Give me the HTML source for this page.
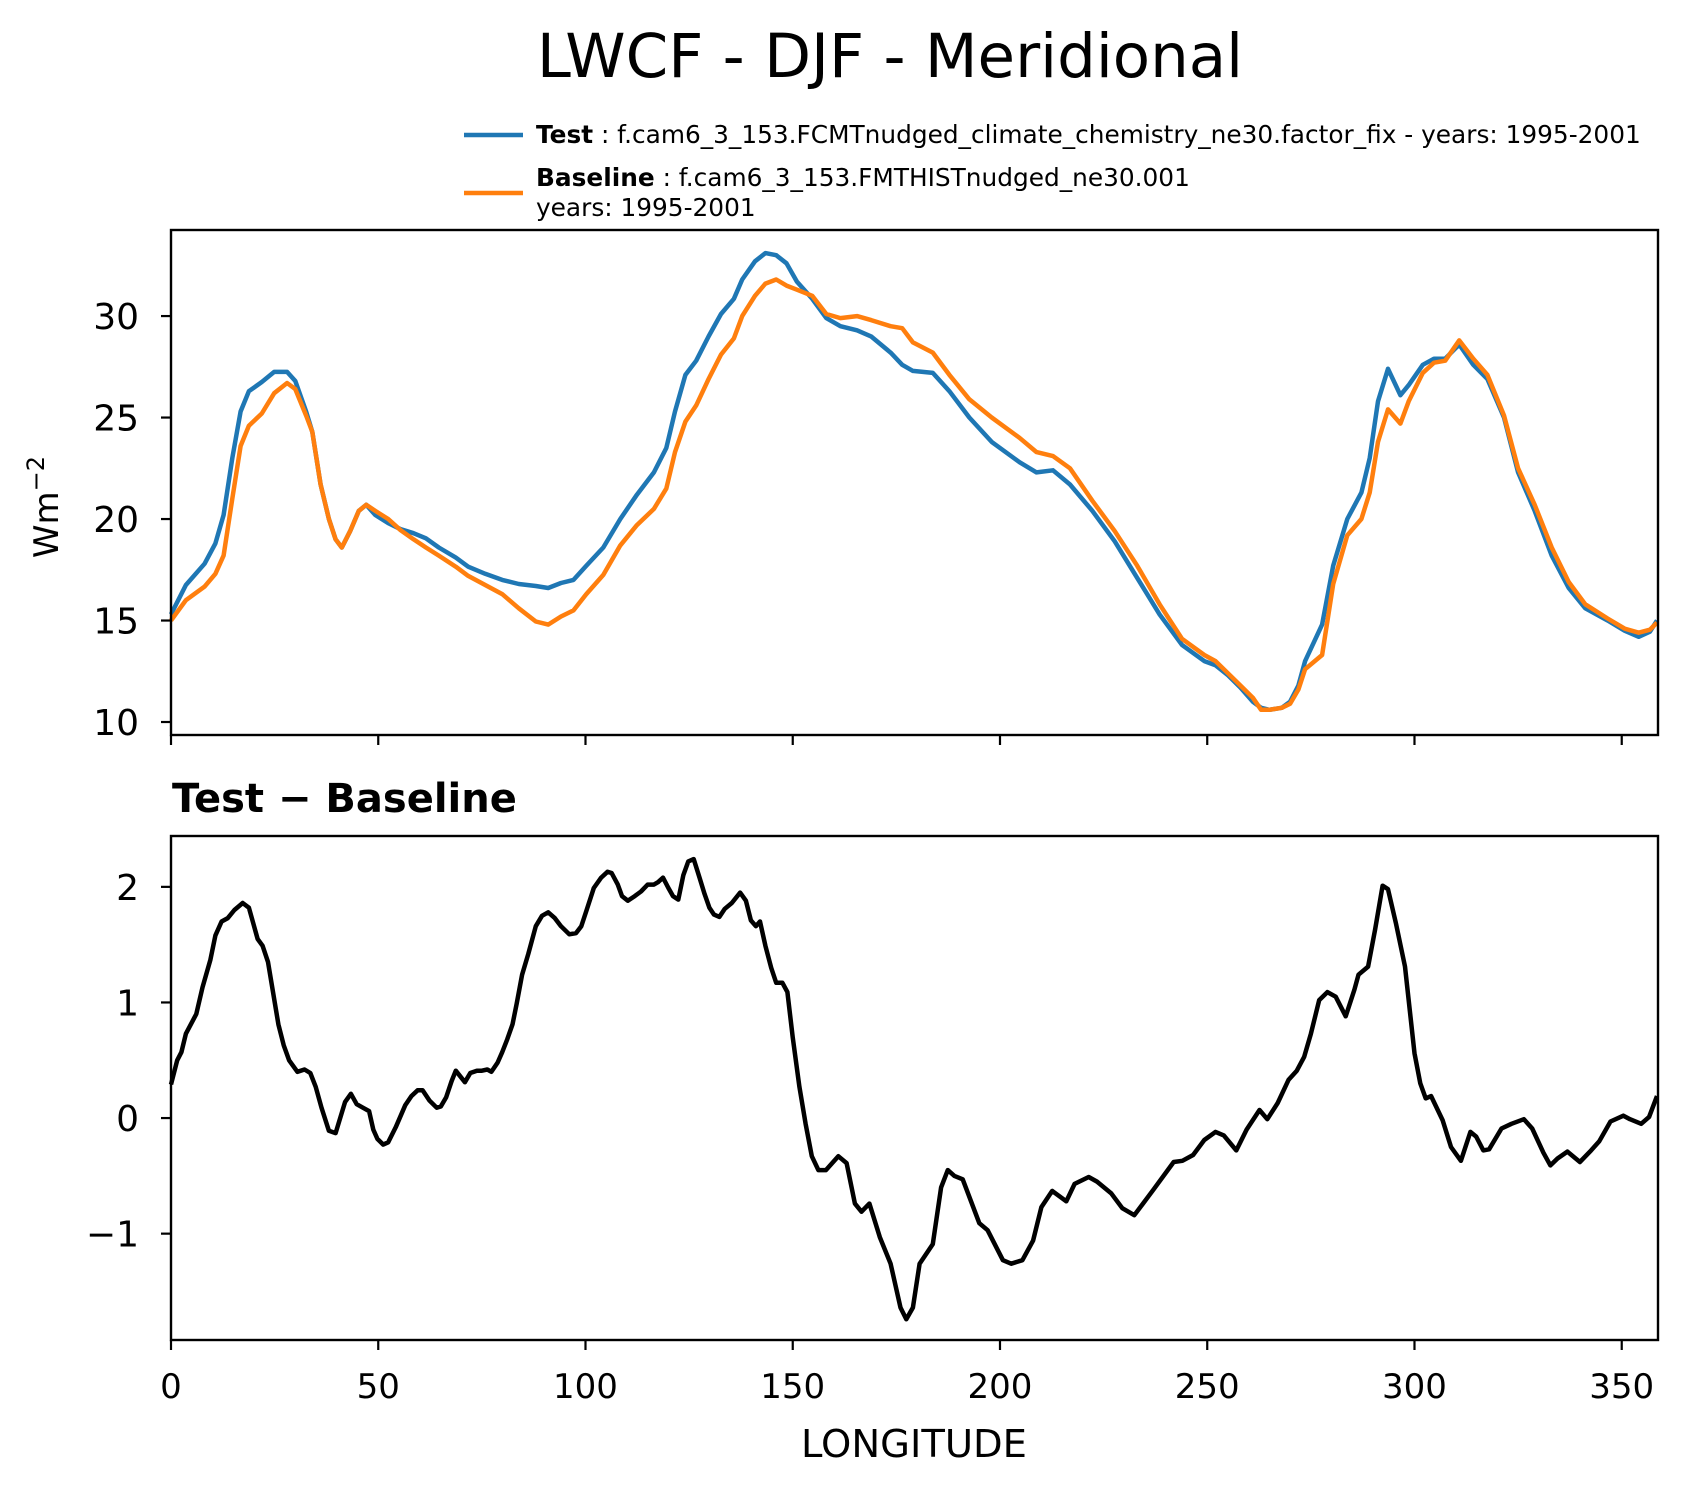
<!DOCTYPE html>
<html><head><meta charset="utf-8"><style>
html,body{margin:0;padding:0;background:#fff;}
svg{display:block;font-family:"DejaVu Sans","Liberation Sans",sans-serif;}
</style></head><body>
<svg id="chart" width="1691" height="1496" viewBox="0 0 1691 1496" xmlns="http://www.w3.org/2000/svg">
<text x="890" y="77" font-size="61" text-anchor="middle">LWCF - DJF - Meridional</text>
<g>
<line x1="464" y1="135" x2="523" y2="135" stroke="#1f77b4" stroke-width="4.5"/>
<text x="536" y="143" font-size="24.8"><tspan font-weight="bold">Test</tspan> : f.cam6_3_153.FCMTnudged_climate_chemistry_ne30.factor_fix - years: 1995-2001</text>
<line x1="464" y1="193" x2="523" y2="193" stroke="#ff7f0e" stroke-width="4.5"/>
<text x="536" y="186" font-size="24.8"><tspan font-weight="bold">Baseline</tspan> : f.cam6_3_153.FMTHISTnudged_ne30.001</text>
<text x="536" y="216" font-size="24.8">years: 1995-2001</text>
</g>
<text transform="translate(58,507) rotate(-90)" font-size="34" text-anchor="middle">Wm<tspan dy="-14" font-size="24">−2</tspan></text>
<text x="172" y="812" font-size="40" font-weight="bold">Test − Baseline</text>
<text x="914" y="1457" font-size="38.5" text-anchor="middle">LONGITUDE</text>
<g id="top"></g>
<g id="bot"></g>
</svg>
<script>
const lonTest=[0,3.6,8.1,10.7,12.7,14.8,16.8,18.8,21.9,24.9,28,30,32.6,34.1,36.1,38.1,39.7,41.2,43.2,45.3,47.1,49.3,52.4,55.4,58.5,61.5,64.6,68.7,71.7,75.8,79.9,83.9,88,91,94.1,97.1,100.2,104.3,108.4,112.4,116.5,119.5,121.6,124.1,126.7,129.7,132.7,135.8,137.8,140.9,143.4,146,148.5,151,154.7,158.1,161.5,165.5,168.9,173.6,176.4,179,183.8,187.8,192.6,198,204.7,208.8,212.8,216.9,222.3,227.7,233.1,238.5,243.9,249.3,252,255,258,261,263,265,268,270,272,273.6,277.7,280.4,283.8,287.2,289.2,291.2,293.6,296.6,298.6,302,304.7,307.4,310.8,314.2,317.6,321.6,325,329,333.1,337.2,341.2,346.6,350.7,354.1,356.8,358.5];
const valTest=[15.3,16.75,17.8,18.8,20.2,23,25.3,26.3,26.75,27.25,27.25,26.8,25.3,24.3,21.7,20.0,19,18.6,19.4,20.4,20.7,20.2,19.8,19.5,19.3,19.05,18.6,18.1,17.65,17.3,17,16.8,16.7,16.6,16.85,17,17.7,18.6,20,21.2,22.3,23.5,25.3,27.1,27.8,29,30.1,30.85,31.8,32.7,33.1,33,32.6,31.7,30.85,29.9,29.5,29.3,29,28.2,27.6,27.3,27.2,26.3,25,23.8,22.8,22.3,22.4,21.7,20.4,18.9,17.1,15.3,13.8,13,12.8,12.3,11.7,11.0,10.7,10.6,10.7,11.0,11.8,13,14.8,17.7,20,21.3,23,25.8,27.4,26.1,26.6,27.6,27.9,27.9,28.6,27.6,26.9,25,22.3,20.4,18.2,16.6,15.6,15,14.5,14.2,14.45,15];
const lonBase=[0,3.6,8.1,10.7,12.7,14.8,16.8,18.8,21.9,24.9,28,30,32.6,34.1,36.1,38.1,39.7,41.2,43.2,45.3,47.1,49.3,52.4,55.4,58.5,61.5,64.6,68.7,71.7,75.8,79.9,83.9,88,91,94.1,97.1,100.2,104.3,108.4,112.4,116.5,119.5,121.6,124.1,126.7,129.7,132.7,135.8,137.8,140.9,143.4,146,148.5,151,154.7,158.1,161.5,165.5,168.9,173.6,176.4,179,183.8,187.8,192.6,198,204.7,208.8,212.8,216.9,222.3,227.7,233.1,238.5,243.9,249.3,252,255,258,261,263,265,268,270,272,273.6,277.7,280.4,283.8,287.2,289.2,291.2,293.6,296.6,298.6,302,304.7,307.4,310.8,314.2,317.6,321.6,325,329,333.1,337.2,341.2,346.6,350.7,354.1,356.8,358.5];
const valBase=[15.0,16.0,16.67,17.3,18.2,21,23.6,24.6,25.2,26.2,26.7,26.4,25.1,24.3,21.7,20.0,19,18.6,19.4,20.4,20.7,20.4,20,19.45,19,18.6,18.2,17.65,17.2,16.75,16.3,15.6,14.95,14.8,15.2,15.5,16.3,17.25,18.7,19.7,20.5,21.5,23.3,24.8,25.6,26.9,28.1,28.9,30,31,31.6,31.8,31.5,31.3,31,30.1,29.9,30,29.8,29.5,29.4,28.7,28.2,27.1,25.9,25,24,23.3,23.1,22.5,20.9,19.4,17.7,15.8,14.1,13.3,13.0,12.4,11.8,11.2,10.6,10.6,10.7,10.9,11.6,12.6,13.3,16.8,19.2,20,21.3,23.8,25.4,24.7,25.8,27.2,27.7,27.8,28.8,27.9,27.1,25.1,22.5,20.7,18.6,16.9,15.8,15.1,14.6,14.4,14.55,14.9];
const lonDiff=[0,1.5,2.5,3.6,6.1,7.6,9.5,10.7,12.2,13.7,15.3,17.3,18.8,19.8,20.9,22.1,23.4,24.7,25.9,27.2,28.5,30.5,32.2,33.6,34.9,36.3,38.1,39.7,42,43.4,44.8,46.3,47.8,48.8,49.8,51.2,52.4,54.2,56.5,58,59.5,60.7,62.4,64.1,65.1,66.4,67.7,68.7,70.9,72.2,73.8,75,76.3,77.3,78.8,79.9,81.1,82.4,83.4,84.7,86.2,88,89.5,91,92.6,94.1,96.1,97.7,99,100.2,102,103.8,105.3,106.3,107.8,108.8,110.2,111.9,113.4,115,116.5,117.5,118.7,120,121.1,122.4,123.6,124.8,126.1,127.5,128.7,129.9,131,132.3,133.6,135.3,137.3,138.7,139.9,141.1,142.1,143.4,144.8,146,147.5,148.7,150,151.6,153.1,154.6,156.2,158,161,163,165,166.6,168.5,171,173.6,176,177.4,179,180.6,183.8,185.8,187.4,189,191,195,197,200.7,202.7,205.4,208,210,212.6,216,218,221.4,223.4,226.8,229.5,232.4,237,241.9,244,246.6,249.3,252,254,257,259.5,262.6,264.5,267,269.6,271.6,273.4,275,277,279,281,283.4,285.5,286.5,288.8,290.5,292.3,293.6,295.5,297.7,300,301.4,302.7,304,306.8,308.8,311.2,313.5,314.9,316.6,318,321,323.4,326.4,328.4,331.1,332.8,334.5,336.9,339.9,342.6,344.6,347.3,350.4,352,354.7,356.6,358.5];
const valDiff=[0.29,0.5,0.57,0.73,0.9,1.13,1.37,1.58,1.70,1.73,1.80,1.86,1.82,1.69,1.55,1.49,1.35,1.07,0.81,0.63,0.50,0.40,0.42,0.39,0.27,0.09,-0.11,-0.13,0.14,0.21,0.12,0.09,0.06,-0.1,-0.18,-0.23,-0.21,-0.08,0.11,0.19,0.24,0.24,0.15,0.09,0.10,0.18,0.32,0.41,0.31,0.39,0.41,0.41,0.42,0.40,0.48,0.57,0.68,0.81,0.99,1.24,1.42,1.66,1.75,1.78,1.73,1.66,1.59,1.60,1.66,1.79,1.99,2.08,2.13,2.12,2.02,1.92,1.88,1.92,1.96,2.02,2.02,2.04,2.08,1.99,1.92,1.89,2.1,2.22,2.24,2.08,1.94,1.82,1.76,1.74,1.81,1.86,1.95,1.88,1.71,1.66,1.70,1.49,1.30,1.17,1.17,1.09,0.70,0.27,-0.05,-0.33,-0.45,-0.45,-0.33,-0.39,-0.74,-0.81,-0.74,-1.03,-1.26,-1.64,-1.74,-1.64,-1.26,-1.09,-0.6,-0.45,-0.5,-0.53,-0.91,-0.97,-1.23,-1.26,-1.23,-1.06,-0.77,-0.63,-0.72,-0.57,-0.51,-0.55,-0.65,-0.78,-0.84,-0.62,-0.38,-0.37,-0.32,-0.19,-0.12,-0.15,-0.28,-0.1,0.07,-0.01,0.13,0.33,0.41,0.53,0.73,1.02,1.09,1.05,0.88,1.11,1.24,1.31,1.63,2.01,1.98,1.69,1.31,0.56,0.30,0.17,0.19,-0.02,-0.25,-0.37,-0.12,-0.16,-0.28,-0.27,-0.09,-0.05,-0.01,-0.09,-0.3,-0.41,-0.35,-0.29,-0.38,-0.28,-0.2,-0.03,0.02,-0.01,-0.05,0.01,0.19];
const xTicks=[0,50,100,150,200,250,300,350];
const yTicksTop=[10,15,20,25,30];
const yTicksBot=[-1,0,1,2];

const NS='http://www.w3.org/2000/svg';
const X0=171,X1=1658,LON0=0,LON1=358.75;
const TT=230,TB=735,BT=836,BB=1340;
function xs(v){return X0+(v-LON0)/(LON1-LON0)*(X1-X0);}
function yTop(v){return TB-(v-9.36)/(34.24-9.36)*(TB-TT);}
function yBot(v){return BB-(v-(-1.92))/(2.44-(-1.92))*(BB-BT);}
function mk(tag,attrs,parent){const e=document.createElementNS(NS,tag);for(const k in attrs)e.setAttribute(k,attrs[k]);parent.appendChild(e);return e;}
function pathD(lons,vals,yf){return lons.map((l,i)=>(i?'L':'M')+xs(l).toFixed(1)+' '+yf(vals[i]).toFixed(1)).join(' ');}

function panel(g,top,bot,yf,yticks,xlabels,prefix){
  yticks.forEach(t=>{
    const y=yf(t);
    const tk=mk('line',{x1:X0-10,x2:X0,y1:y,y2:y,stroke:'#000','stroke-width':2.2},g);
    
    
    const tx=mk('text',{x:X0-32,y:y+13,'font-size':36,'text-anchor':'end'},g);
    
    
    tx.textContent=t<0?'−'+Math.abs(t):String(t);
  });
  xTicks.forEach(t=>{
    const x=xs(t);
    const tk=mk('line',{x1:x,x2:x,y1:bot,y2:bot+10,stroke:'#000','stroke-width':2.2},g);
    
    
    if(xlabels){
      const tx=mk('text',{x:x,y:bot+58,'font-size':34,'text-anchor':'middle'},g);
      
      
      tx.textContent=String(t);
    }
  });
}
const gt=document.getElementById('top'),gb=document.getElementById('bot');
panel(gt,TT,TB,yTop,yTicksTop,false,'top');
panel(gb,BT,BB,yBot,yTicksBot,true,'diff');
const pT=mk('path',{d:pathD(lonTest,valTest,yTop),fill:'none',stroke:'#1f77b4','stroke-width':4.5,'stroke-linejoin':'round'},gt);


const pB=mk('path',{d:pathD(lonBase,valBase,yTop),fill:'none',stroke:'#ff7f0e','stroke-width':4.5,'stroke-linejoin':'round'},gt);


const pD=mk('path',{d:pathD(lonDiff,valDiff,yBot),fill:'none',stroke:'#000','stroke-width':4.5,'stroke-linejoin':'round'},gb);


const f1=mk('rect',{x:X0,y:TT,width:X1-X0,height:TB-TT,fill:'none',stroke:'#000','stroke-width':2.4},gt);


const f2=mk('rect',{x:X0,y:BT,width:X1-X0,height:BB-BT,fill:'none',stroke:'#000','stroke-width':2.4},gb);


</script>
</body></html>
